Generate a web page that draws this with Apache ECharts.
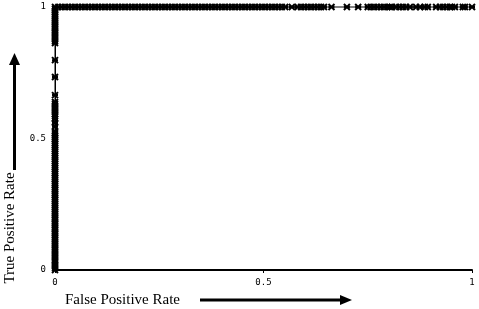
<!DOCTYPE html>
<html><head><meta charset="utf-8">
<script src="https://cdn.jsdelivr.net/npm/echarts@6/dist/echarts.min.js"></script>
<style>html,body{margin:0;padding:0;background:#fff}#c{width:479px;height:309px}</style>
</head><body><div id="c"></div>
<script>
// ROC curve points: vertical part (FPR = 0) then horizontal part (TPR = 1)
const vertTPR = [0.000,0.008,0.015,0.022,0.031,0.038,0.046,0.053,0.061,0.069,0.076,0.084,0.092,0.099,0.107,0.115,0.122,0.130,0.138,0.145,0.153,0.160,0.168,0.176,0.183,0.191,0.198,0.206,0.214,0.221,0.229,0.237,0.244,0.252,0.260,0.267,
 0.275,0.283,0.290,0.298,0.305,0.313,0.321,0.328,0.336,0.344,0.351,0.359,0.367,0.374,0.382,0.390,0.397,0.405,0.413,0.420,0.428,0.435,0.443,0.451,0.458,0.466,0.474,0.481,0.489,0.497,0.504,0.512,0.520,0.527,
 0.545,0.560,0.574,0.585,0.593,0.601,0.608,0.616,0.624,0.631,0.639,0.665,0.734,0.798,
 0.863,0.871,0.878,0.886,0.894,0.901,0.909,0.917,0.924,0.932,0.940,0.947,0.955,0.963,0.970,0.978,0.986,0.993,1.000];
const topFPR = [0.008,0.016,0.024,0.032,0.040,0.048,0.056,0.064,0.072,0.080,0.088,0.096,0.104,0.112,0.120,0.128,0.136,0.144,0.152,0.160,0.168,0.176,0.184,0.192,0.200,0.208,0.216,0.224,0.232,0.240,0.248,0.256,0.264,0.272,0.280,0.288,0.296,0.304,0.312,0.320,0.328,0.336,0.344,0.352,0.360,0.368,0.376,0.384,0.392,0.400,0.408,0.416,0.424,0.432,0.440,0.448,0.456,0.464,0.472,0.480,0.488,0.496,0.504,0.512,0.520,0.528,0.536,0.544,0.552,
 0.568,0.582,0.590,0.598,0.606,0.614,0.622,0.630,0.638,0.645,0.663,0.700,0.727,0.750,
 0.757,0.765,0.773,0.781,0.789,0.797,0.803,0.808,0.818,0.826,0.834,0.842,0.851,0.866,0.875,0.887,0.894,0.914,0.923,0.931,0.939,0.947,0.952,0.959,0.978,0.983,1.000];
const xTicks = ['0','0.5','1'];
const yTicks = ['0','0.5','1'];
const xName = 'False Positive Rate';
const yName = 'True Positive Rate';

const pts = vertTPR.map(v => [0, v]).concat(topFPR.map(v => [v, 1]));
const chart = echarts.init(document.getElementById('c'), null, {renderer:'canvas'});
const tickFmt = arr => (v => { const s = String(v); return arr.includes(s) ? s : ''; });
chart.setOption({
  animation:false,
  grid:{left:55,right:7,top:7,bottom:39},
  xAxis:{type:'value',min:0,max:1,interval:0.5,
    axisLine:{lineStyle:{color:'#000',width:2}},
    axisTick:{show:true,length:3,lineStyle:{color:'#000'}},
    splitLine:{show:false},
    axisLabel:{color:'#000',fontFamily:'DejaVu Sans Mono',fontSize:9,margin:8,formatter:tickFmt(xTicks)}},
  yAxis:{type:'value',min:0,max:1,interval:0.5,
    axisLine:{show:true,lineStyle:{color:'#000',width:1}},
    axisTick:{show:false},
    splitLine:{show:false},
    axisLabel:{color:'#000',fontFamily:'DejaVu Sans Mono',fontSize:9,margin:9,formatter:tickFmt(yTicks)}},
  series:[{type:'line',data:pts,clip:false,
    lineStyle:{color:'#000',width:1},
    symbol:'path://M0,0L10,10M10,0L0,10M0,5L10,5',symbolSize:6,
    itemStyle:{color:'#000',borderColor:'#000',borderWidth:2}}],
  graphic:[
    {type:'text',x:10,y:228,rotation:Math.PI/2,style:{text:yName,font:'15px "Liberation Serif"',fill:'#000',align:'center',verticalAlign:'middle'}},
    {type:'text',x:65,y:300,style:{text:xName,font:'15px "Liberation Serif"',fill:'#000',align:'left',verticalAlign:'middle'}},
    {type:'line',shape:{x1:14.5,y1:170,x2:14.5,y2:64},style:{stroke:'#000',lineWidth:3}},
    {type:'polygon',shape:{points:[[14.5,53],[9,65],[20,65]]},style:{fill:'#000'}},
    {type:'line',shape:{x1:200,y1:300,x2:341,y2:300},style:{stroke:'#000',lineWidth:3}},
    {type:'polygon',shape:{points:[[352,300],[340,295],[340,305]]},style:{fill:'#000'}}
  ]
});
</script></body></html>
